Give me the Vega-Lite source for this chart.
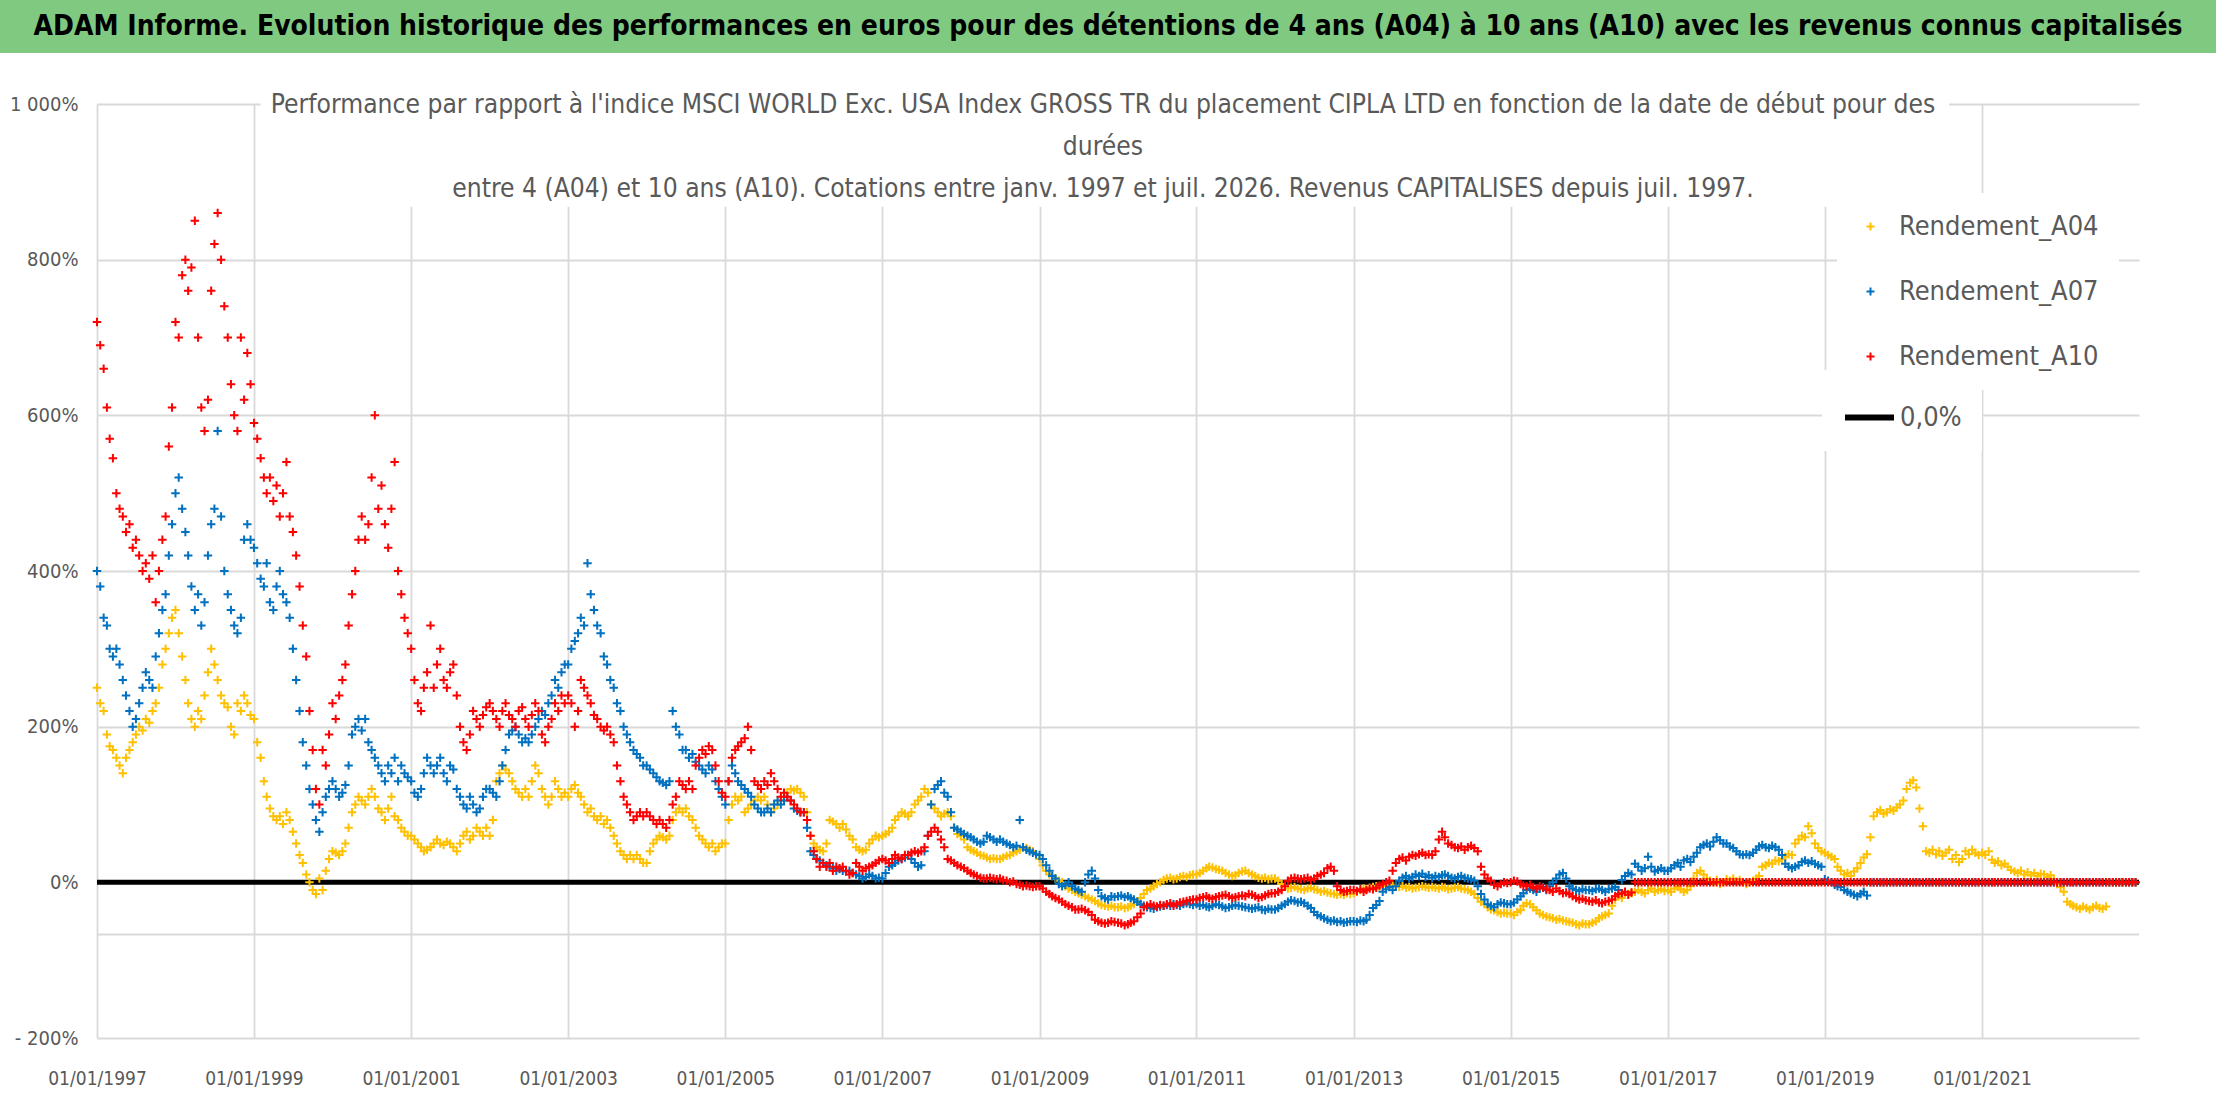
{
  "$schema": "https://vega.github.io/schema/vega-lite/v6.json",
  "padding": 0,
  "spacing": 38,
  "background": "white",
  "config": {
    "view": {"stroke": null},
    "font": "DejaVu Sans Condensed, Liberation Sans, sans-serif",
    "axis": {"labelFont": "DejaVu Sans Condensed, Liberation Sans, sans-serif", "labelColor": "#595959", "labelFontSize": 19, "ticks": false, "domain": false, "gridColor": "#D9D9D9", "gridWidth": 1.8, "title": null},
    "legend": {"labelFont": "DejaVu Sans Condensed, Liberation Sans, sans-serif", "labelFontSize": 27, "labelColor": "#595959", "labelLimit": 400, "fillColor": "white", "padding": 20, "title": null}
  },
  "vconcat": [
    {
      "width": 2216,
      "height": 53,
      "view": {"fill": "#80C980", "stroke": null},
      "data": {"values": [{}]},
      "mark": {"type": "text", "font": "DejaVu Sans Condensed, Liberation Sans, sans-serif", "fontWeight": "bold", "fontSize": 28, "color": "#000000", "align": "center", "baseline": "middle"},
      "encoding": {"text": {"value": "ADAM Informe. Evolution historique des performances en euros pour des détentions de 4 ans (A04) à 10 ans (A10) avec les revenus connus capitalisés"}}
    },
    {
      "width": 2216,
      "height": 934,
      "title": {
        "text": [
          "Performance par rapport à l'indice MSCI WORLD Exc. USA Index GROSS TR  du placement CIPLA LTD en fonction de la date de début pour des",
          "durées",
          "entre 4 (A04) et 10 ans (A10). Cotations entre janv. 1997 et juil. 2026. Revenus CAPITALISES depuis juil. 1997."
        ],
        "anchor": "middle",
        "frame": "group",
        "dx": -5,
        "offset": -108,
        "font": "DejaVu Sans Condensed, Liberation Sans, sans-serif",
        "fontSize": 26.2,
        "fontWeight": "normal",
        "color": "#595959",
        "lineHeight": 42
      },
      "layer": [
        {
          "data": {"values": [{}]},
          "mark": {"type": "rect", "color": "white"},
          "encoding": {
            "x": {"datum": {"year": 1999, "month": 2, "date": 1, "utc": true}, "type": "temporal"},
            "x2": {"datum": {"year": 2020, "month": 8, "date": 1, "utc": true}},
            "y": {"datum": 1003, "type": "quantitative"},
            "y2": {"datum": 868}
          }
        },
        {
          "data": {"values": [{}]},
          "mark": {"type": "rule", "color": "#D9D9D9", "strokeWidth": 1.8},
          "encoding": {
            "x": {"datum": {"year": 1997, "month": 1, "date": 1, "utc": true}, "type": "temporal"},
            "x2": {"datum": {"year": 2023, "month": 1, "date": 1, "utc": true}},
            "y": {"datum": -67, "type": "quantitative"}
          }
        },
        {
          "data": {"values": [{}]},
          "mark": {"type": "rule", "strokeWidth": 5, "color": "#000000"},
          "encoding": {
            "x": {"datum": {"year": 1997, "month": 1, "date": 1, "utc": true}, "type": "temporal"},
            "x2": {"datum": {"year": 2023, "month": 1, "date": 1, "utc": true}},
            "y": {"datum": 0, "type": "quantitative"},
            "strokeDash": {
              "datum": "0,0%",
              "type": "nominal",
              "scale": {"domain": ["0,0%"], "range": [[1, 0]]},
              "legend": {
                "orient": "none",
                "legendX": 1822,
                "legendY": 370,
                "symbolType": "stroke",
                "symbolSize": 2400,
                "symbolStrokeWidth": 6,
                "symbolStrokeColor": "#000000",
                "labelOffset": 3,
                "labelExpr": "datum.label + '\u00a0\u00a0\u00a0\u00a0\u00a0\u00a0\u00a0\u00a0\u00a0\u00a0\u00a0\u00a0\u00a0\u00a0\u00a0\u00a0\u00a0\u00a0\u00a0\u00a0\u00a0\u00a0'"
              }
            }
          }
        },
        {
          "data": {"values": [
{"d":"1997-01-01","a04":250,"a07":400,"a10":720},
{"d":"1997-01-16","a04":230,"a07":380,"a10":690},
{"d":"1997-02-01","a04":220,"a07":340,"a10":660},
{"d":"1997-02-16","a04":190,"a07":330,"a10":610},
{"d":"1997-03-01","a04":175,"a07":300,"a10":570},
{"d":"1997-03-16","a04":170,"a07":290,"a10":545},
{"d":"1997-04-01","a04":160,"a07":300,"a10":500},
{"d":"1997-04-16","a04":150,"a07":280,"a10":480},
{"d":"1997-05-01","a04":140,"a07":260,"a10":470},
{"d":"1997-05-16","a04":160,"a07":240,"a10":450},
{"d":"1997-06-01","a04":170,"a07":220,"a10":460},
{"d":"1997-06-16","a04":180,"a07":200,"a10":430},
{"d":"1997-07-01","a04":190,"a07":210,"a10":440},
{"d":"1997-07-16","a04":200,"a07":230,"a10":420},
{"d":"1997-08-01","a04":195,"a07":250,"a10":400},
{"d":"1997-08-16","a04":210,"a07":270,"a10":410},
{"d":"1997-09-01","a04":205,"a07":260,"a10":390},
{"d":"1997-09-16","a04":220,"a07":250,"a10":420},
{"d":"1997-10-01","a04":230,"a07":290,"a10":360},
{"d":"1997-10-16","a04":250,"a07":320,"a10":400},
{"d":"1997-11-01","a04":280,"a07":350,"a10":440},
{"d":"1997-11-16","a04":300,"a07":370,"a10":470},
{"d":"1997-12-01","a04":320,"a07":420,"a10":560},
{"d":"1997-12-16","a04":340,"a07":460,"a10":610},
{"d":"1998-01-01","a04":350,"a07":500,"a10":720},
{"d":"1998-01-16","a04":320,"a07":520,"a10":700},
{"d":"1998-02-01","a04":290,"a07":480,"a10":780},
{"d":"1998-02-16","a04":260,"a07":450,"a10":800},
{"d":"1998-03-01","a04":230,"a07":420,"a10":760},
{"d":"1998-03-16","a04":210,"a07":380,"a10":790},
{"d":"1998-04-01","a04":200,"a07":350,"a10":850},
{"d":"1998-04-16","a04":220,"a07":370,"a10":700},
{"d":"1998-05-01","a04":210,"a07":330,"a10":610},
{"d":"1998-05-16","a04":240,"a07":360,"a10":580},
{"d":"1998-06-01","a04":270,"a07":420,"a10":620},
{"d":"1998-06-16","a04":300,"a07":460,"a10":760},
{"d":"1998-07-01","a04":280,"a07":480,"a10":820},
{"d":"1998-07-16","a04":260,"a07":580,"a10":860},
{"d":"1998-08-01","a04":240,"a07":470,"a10":800},
{"d":"1998-08-16","a04":230,"a07":400,"a10":740},
{"d":"1998-09-01","a04":225,"a07":370,"a10":700},
{"d":"1998-09-16","a04":200,"a07":350,"a10":640},
{"d":"1998-10-01","a04":190,"a07":330,"a10":600},
{"d":"1998-10-16","a04":230,"a07":320,"a10":580},
{"d":"1998-11-01","a04":220,"a07":340,"a10":700},
{"d":"1998-11-16","a04":240,"a07":440,"a10":620},
{"d":"1998-12-01","a04":230,"a07":460,"a10":680},
{"d":"1998-12-16","a04":215,"a07":440,"a10":640},
{"d":"1999-01-01","a04":210,"a07":430,"a10":590},
{"d":"1999-01-16","a04":180,"a07":410,"a10":570},
{"d":"1999-02-01","a04":160,"a07":390,"a10":545},
{"d":"1999-02-16","a04":130,"a07":380,"a10":520},
{"d":"1999-03-01","a04":110,"a07":410,"a10":500},
{"d":"1999-03-16","a04":95,"a07":360,"a10":520},
{"d":"1999-04-01","a04":85,"a07":350,"a10":490},
{"d":"1999-04-16","a04":80,"a07":380,"a10":510},
{"d":"1999-05-01","a04":85,"a07":400,"a10":470},
{"d":"1999-05-16","a04":75,"a07":370,"a10":500},
{"d":"1999-06-01","a04":90,"a07":360,"a10":540},
{"d":"1999-06-16","a04":80,"a07":340,"a10":470},
{"d":"1999-07-01","a04":65,"a07":300,"a10":450},
{"d":"1999-07-16","a04":50,"a07":260,"a10":420},
{"d":"1999-08-01","a04":35,"a07":220,"a10":380},
{"d":"1999-08-16","a04":25,"a07":180,"a10":330},
{"d":"1999-09-01","a04":10,"a07":150,"a10":290},
{"d":"1999-09-16","a04":0,"a07":120,"a10":220},
{"d":"1999-10-01","a04":-10,"a07":100,"a10":170},
{"d":"1999-10-16","a04":-15,"a07":80,"a10":120},
{"d":"1999-11-01","a04":5,"a07":65,"a10":100},
{"d":"1999-11-16","a04":-10,"a07":90,"a10":170},
{"d":"1999-12-01","a04":15,"a07":110,"a10":150},
{"d":"1999-12-16","a04":30,"a07":120,"a10":190},
{"d":"2000-01-01","a04":40,"a07":130,"a10":230},
{"d":"2000-01-16","a04":38,"a07":120,"a10":210},
{"d":"2000-02-01","a04":35,"a07":110,"a10":240},
{"d":"2000-02-16","a04":40,"a07":115,"a10":260},
{"d":"2000-03-01","a04":50,"a07":125,"a10":280},
{"d":"2000-03-16","a04":70,"a07":150,"a10":330},
{"d":"2000-04-01","a04":90,"a07":190,"a10":370},
{"d":"2000-04-16","a04":100,"a07":200,"a10":400},
{"d":"2000-05-01","a04":110,"a07":210,"a10":440},
{"d":"2000-05-16","a04":105,"a07":195,"a10":470},
{"d":"2000-06-01","a04":100,"a07":210,"a10":440},
{"d":"2000-06-16","a04":110,"a07":180,"a10":460},
{"d":"2000-07-01","a04":120,"a07":170,"a10":520},
{"d":"2000-07-16","a04":110,"a07":160,"a10":600},
{"d":"2000-08-01","a04":95,"a07":150,"a10":480},
{"d":"2000-08-16","a04":90,"a07":140,"a10":510},
{"d":"2000-09-01","a04":80,"a07":130,"a10":460},
{"d":"2000-09-16","a04":95,"a07":150,"a10":430},
{"d":"2000-10-01","a04":110,"a07":140,"a10":480},
{"d":"2000-10-16","a04":85,"a07":160,"a10":540},
{"d":"2000-11-01","a04":80,"a07":130,"a10":400},
{"d":"2000-11-16","a04":70,"a07":150,"a10":370},
{"d":"2000-12-01","a04":65,"a07":140,"a10":340},
{"d":"2000-12-16","a04":60,"a07":135,"a10":320},
{"d":"2001-01-01","a04":60,"a07":130,"a10":300},
{"d":"2001-01-16","a04":55,"a07":115,"a10":260},
{"d":"2001-02-01","a04":50,"a07":110,"a10":230},
{"d":"2001-02-16","a04":45,"a07":120,"a10":220},
{"d":"2001-03-01","a04":40,"a07":140,"a10":250},
{"d":"2001-03-16","a04":42,"a07":160,"a10":270},
{"d":"2001-04-01","a04":45,"a07":150,"a10":330},
{"d":"2001-04-16","a04":50,"a07":140,"a10":250},
{"d":"2001-05-01","a04":55,"a07":150,"a10":280},
{"d":"2001-05-16","a04":50,"a07":160,"a10":300},
{"d":"2001-06-01","a04":48,"a07":140,"a10":260},
{"d":"2001-06-16","a04":52,"a07":130,"a10":250},
{"d":"2001-07-01","a04":50,"a07":150,"a10":270},
{"d":"2001-07-16","a04":45,"a07":145,"a10":280},
{"d":"2001-08-01","a04":40,"a07":120,"a10":240},
{"d":"2001-08-16","a04":50,"a07":110,"a10":200},
{"d":"2001-09-01","a04":60,"a07":100,"a10":180},
{"d":"2001-09-16","a04":65,"a07":95,"a10":170},
{"d":"2001-10-01","a04":55,"a07":110,"a10":190},
{"d":"2001-10-16","a04":60,"a07":100,"a10":220},
{"d":"2001-11-01","a04":70,"a07":90,"a10":210},
{"d":"2001-11-16","a04":65,"a07":95,"a10":200},
{"d":"2001-12-01","a04":60,"a07":110,"a10":215},
{"d":"2001-12-16","a04":70,"a07":120,"a10":225},
{"d":"2002-01-01","a04":60,"a07":120,"a10":230},
{"d":"2002-01-16","a04":80,"a07":115,"a10":220},
{"d":"2002-02-01","a04":130,"a07":110,"a10":210},
{"d":"2002-02-16","a04":140,"a07":130,"a10":200},
{"d":"2002-03-01","a04":150,"a07":150,"a10":220},
{"d":"2002-03-16","a04":145,"a07":170,"a10":230},
{"d":"2002-04-01","a04":140,"a07":190,"a10":215},
{"d":"2002-04-16","a04":130,"a07":195,"a10":210},
{"d":"2002-05-01","a04":120,"a07":200,"a10":200},
{"d":"2002-05-16","a04":115,"a07":190,"a10":220},
{"d":"2002-06-01","a04":110,"a07":180,"a10":225},
{"d":"2002-06-16","a04":120,"a07":185,"a10":210},
{"d":"2002-07-01","a04":110,"a07":180,"a10":200},
{"d":"2002-07-16","a04":130,"a07":190,"a10":215},
{"d":"2002-08-01","a04":150,"a07":200,"a10":230},
{"d":"2002-08-16","a04":140,"a07":210,"a10":220},
{"d":"2002-09-01","a04":120,"a07":220,"a10":190},
{"d":"2002-09-16","a04":110,"a07":215,"a10":180},
{"d":"2002-10-01","a04":100,"a07":230,"a10":200},
{"d":"2002-10-16","a04":110,"a07":240,"a10":210},
{"d":"2002-11-01","a04":130,"a07":260,"a10":230},
{"d":"2002-11-16","a04":120,"a07":250,"a10":220},
{"d":"2002-12-01","a04":110,"a07":270,"a10":240},
{"d":"2002-12-16","a04":115,"a07":280,"a10":230},
{"d":"2003-01-01","a04":110,"a07":280,"a10":240},
{"d":"2003-01-16","a04":120,"a07":300,"a10":230},
{"d":"2003-02-01","a04":125,"a07":310,"a10":200},
{"d":"2003-02-16","a04":115,"a07":320,"a10":220},
{"d":"2003-03-01","a04":110,"a07":340,"a10":260},
{"d":"2003-03-16","a04":100,"a07":330,"a10":250},
{"d":"2003-04-01","a04":90,"a07":410,"a10":240},
{"d":"2003-04-16","a04":95,"a07":370,"a10":230},
{"d":"2003-05-01","a04":85,"a07":350,"a10":215},
{"d":"2003-05-16","a04":80,"a07":330,"a10":210},
{"d":"2003-06-01","a04":85,"a07":320,"a10":200},
{"d":"2003-06-16","a04":75,"a07":290,"a10":195},
{"d":"2003-07-01","a04":80,"a07":280,"a10":200},
{"d":"2003-07-16","a04":70,"a07":260,"a10":190},
{"d":"2003-08-01","a04":60,"a07":250,"a10":180},
{"d":"2003-08-16","a04":50,"a07":230,"a10":150},
{"d":"2003-09-01","a04":40,"a07":220,"a10":130},
{"d":"2003-09-16","a04":35,"a07":200,"a10":110},
{"d":"2003-10-01","a04":30,"a07":190,"a10":100},
{"d":"2003-10-16","a04":35,"a07":180,"a10":90},
{"d":"2003-11-01","a04":30,"a07":170,"a10":80},
{"d":"2003-11-16","a04":35,"a07":165,"a10":85},
{"d":"2003-12-01","a04":30,"a07":160,"a10":90},
{"d":"2003-12-16","a04":25,"a07":150,"a10":85},
{"d":"2004-01-01","a04":25,"a07":150,"a10":90},
{"d":"2004-01-16","a04":40,"a07":145,"a10":85},
{"d":"2004-02-01","a04":50,"a07":140,"a10":80},
{"d":"2004-02-16","a04":55,"a07":135,"a10":75},
{"d":"2004-03-01","a04":60,"a07":130,"a10":80},
{"d":"2004-03-16","a04":58,"a07":128,"a10":75},
{"d":"2004-04-01","a04":55,"a07":125,"a10":70},
{"d":"2004-04-16","a04":60,"a07":130,"a10":80},
{"d":"2004-05-01","a04":80,"a07":220,"a10":100},
{"d":"2004-05-16","a04":90,"a07":200,"a10":110},
{"d":"2004-06-01","a04":95,"a07":190,"a10":130},
{"d":"2004-06-16","a04":90,"a07":170,"a10":125},
{"d":"2004-07-01","a04":95,"a07":170,"a10":120},
{"d":"2004-07-16","a04":85,"a07":160,"a10":130},
{"d":"2004-08-01","a04":80,"a07":165,"a10":120},
{"d":"2004-08-16","a04":70,"a07":155,"a10":150},
{"d":"2004-09-01","a04":60,"a07":150,"a10":160},
{"d":"2004-09-16","a04":55,"a07":145,"a10":170},
{"d":"2004-10-01","a04":50,"a07":140,"a10":165},
{"d":"2004-10-16","a04":45,"a07":150,"a10":175},
{"d":"2004-11-01","a04":50,"a07":145,"a10":170},
{"d":"2004-11-16","a04":40,"a07":130,"a10":150},
{"d":"2004-12-01","a04":45,"a07":120,"a10":130},
{"d":"2004-12-16","a04":50,"a07":110,"a10":115},
{"d":"2005-01-01","a04":50,"a07":100,"a10":110},
{"d":"2005-01-16","a04":80,"a07":130,"a10":130},
{"d":"2005-02-01","a04":100,"a07":150,"a10":160},
{"d":"2005-02-16","a04":110,"a07":140,"a10":170},
{"d":"2005-03-01","a04":105,"a07":130,"a10":175},
{"d":"2005-03-16","a04":110,"a07":125,"a10":180},
{"d":"2005-04-01","a04":90,"a07":120,"a10":185},
{"d":"2005-04-16","a04":95,"a07":115,"a10":200},
{"d":"2005-05-01","a04":100,"a07":110,"a10":170},
{"d":"2005-05-16","a04":105,"a07":100,"a10":130},
{"d":"2005-06-01","a04":110,"a07":95,"a10":125},
{"d":"2005-06-16","a04":105,"a07":90,"a10":120},
{"d":"2005-07-01","a04":110,"a07":90,"a10":130},
{"d":"2005-07-16","a04":100,"a07":95,"a10":125},
{"d":"2005-08-01","a04":90,"a07":90,"a10":140},
{"d":"2005-08-16","a04":95,"a07":100,"a10":130},
{"d":"2005-09-01","a04":100,"a07":105,"a10":120},
{"d":"2005-09-16","a04":105,"a07":100,"a10":110},
{"d":"2005-10-01","a04":110,"a07":105,"a10":115},
{"d":"2005-10-16","a04":115,"a07":110,"a10":110},
{"d":"2005-11-01","a04":120,"a07":105,"a10":105},
{"d":"2005-11-16","a04":118,"a07":95,"a10":100},
{"d":"2005-12-01","a04":120,"a07":92,"a10":95},
{"d":"2005-12-16","a04":115,"a07":90,"a10":90},
{"d":"2006-01-01","a04":110,"a07":90,"a10":90},
{"d":"2006-01-16","a04":90,"a07":70,"a10":80},
{"d":"2006-02-01","a04":60,"a07":40,"a10":60},
{"d":"2006-02-16","a04":50,"a07":35,"a10":40},
{"d":"2006-03-01","a04":45,"a07":30,"a10":30},
{"d":"2006-03-16","a04":42,"a07":28,"a10":20},
{"d":"2006-04-01","a04":40,"a07":25,"a10":25},
{"d":"2006-04-16","a04":50,"a07":22,"a10":20},
{"d":"2006-05-01","a04":80,"a07":20,"a10":25},
{"d":"2006-05-16","a04":78,"a07":18,"a10":15},
{"d":"2006-06-01","a04":75,"a07":15,"a10":20},
{"d":"2006-06-16","a04":70,"a07":17,"a10":18},
{"d":"2006-07-01","a04":75,"a07":15,"a10":20},
{"d":"2006-07-16","a04":68,"a07":14,"a10":15},
{"d":"2006-08-01","a04":60,"a07":15,"a10":10},
{"d":"2006-08-16","a04":55,"a07":12,"a10":12},
{"d":"2006-09-01","a04":45,"a07":10,"a10":25},
{"d":"2006-09-16","a04":42,"a07":8,"a10":20},
{"d":"2006-10-01","a04":40,"a07":5,"a10":15},
{"d":"2006-10-16","a04":42,"a07":7,"a10":18},
{"d":"2006-11-01","a04":50,"a07":10,"a10":20},
{"d":"2006-11-16","a04":55,"a07":8,"a10":22},
{"d":"2006-12-01","a04":60,"a07":5,"a10":25},
{"d":"2006-12-16","a04":58,"a07":6,"a10":28},
{"d":"2007-01-01","a04":60,"a07":5,"a10":30},
{"d":"2007-01-16","a04":62,"a07":12,"a10":28},
{"d":"2007-02-01","a04":65,"a07":20,"a10":25},
{"d":"2007-02-16","a04":70,"a07":22,"a10":30},
{"d":"2007-03-01","a04":80,"a07":25,"a10":35},
{"d":"2007-03-16","a04":85,"a07":28,"a10":32},
{"d":"2007-04-01","a04":90,"a07":30,"a10":30},
{"d":"2007-04-16","a04":88,"a07":32,"a10":35},
{"d":"2007-05-01","a04":85,"a07":35,"a10":35},
{"d":"2007-05-16","a04":90,"a07":30,"a10":38},
{"d":"2007-06-01","a04":100,"a07":25,"a10":40},
{"d":"2007-06-16","a04":105,"a07":20,"a10":38},
{"d":"2007-07-01","a04":110,"a07":22,"a10":40},
{"d":"2007-07-16","a04":120,"a07":40,"a10":45},
{"d":"2007-08-01","a04":115,"a07":60,"a10":60},
{"d":"2007-08-16","a04":100,"a07":100,"a10":65},
{"d":"2007-09-01","a04":95,"a07":120,"a10":70},
{"d":"2007-09-16","a04":90,"a07":125,"a10":65},
{"d":"2007-10-01","a04":85,"a07":130,"a10":55},
{"d":"2007-10-16","a04":88,"a07":115,"a10":45},
{"d":"2007-11-01","a04":90,"a07":110,"a10":30},
{"d":"2007-11-16","a04":85,"a07":90,"a10":28},
{"d":"2007-12-01","a04":70,"a07":70,"a10":25},
{"d":"2007-12-16","a04":62,"a07":68,"a10":22},
{"d":"2008-01-01","a04":60,"a07":65,"a10":20},
{"d":"2008-01-16","a04":55,"a07":62,"a10":18},
{"d":"2008-02-01","a04":45,"a07":60,"a10":15},
{"d":"2008-02-16","a04":42,"a07":58,"a10":12},
{"d":"2008-03-01","a04":40,"a07":55,"a10":10},
{"d":"2008-03-16","a04":38,"a07":52,"a10":8},
{"d":"2008-04-01","a04":35,"a07":50,"a10":6},
{"d":"2008-04-16","a04":34,"a07":52,"a10":5},
{"d":"2008-05-01","a04":32,"a07":60,"a10":5},
{"d":"2008-05-16","a04":30,"a07":58,"a10":6},
{"d":"2008-06-01","a04":31,"a07":55,"a10":5},
{"d":"2008-06-16","a04":30,"a07":52,"a10":4},
{"d":"2008-07-01","a04":30,"a07":55,"a10":5},
{"d":"2008-07-16","a04":32,"a07":52,"a10":3},
{"d":"2008-08-01","a04":34,"a07":50,"a10":2},
{"d":"2008-08-16","a04":35,"a07":48,"a10":0},
{"d":"2008-09-01","a04":38,"a07":45,"a10":1},
{"d":"2008-09-16","a04":40,"a07":47,"a10":-2},
{"d":"2008-10-01","a04":42,"a07":80,"a10":-3},
{"d":"2008-10-16","a04":45,"a07":45,"a10":-5},
{"d":"2008-11-01","a04":44,"a07":42,"a10":-4},
{"d":"2008-11-16","a04":42,"a07":40,"a10":-5},
{"d":"2008-12-01","a04":40,"a07":38,"a10":-6},
{"d":"2008-12-16","a04":36,"a07":36,"a10":-5},
{"d":"2009-01-01","a04":30,"a07":35,"a10":-5},
{"d":"2009-01-16","a04":22,"a07":30,"a10":-8},
{"d":"2009-02-01","a04":15,"a07":22,"a10":-12},
{"d":"2009-02-16","a04":10,"a07":15,"a10":-15},
{"d":"2009-03-01","a04":8,"a07":8,"a10":-18},
{"d":"2009-03-16","a04":5,"a07":5,"a10":-20},
{"d":"2009-04-01","a04":2,"a07":-2,"a10":-22},
{"d":"2009-04-16","a04":0,"a07":-5,"a10":-25},
{"d":"2009-05-01","a04":-5,"a07":-3,"a10":-28},
{"d":"2009-05-16","a04":-8,"a07":0,"a10":-30},
{"d":"2009-06-01","a04":-10,"a07":-5,"a10":-32},
{"d":"2009-06-16","a04":-12,"a07":-8,"a10":-35},
{"d":"2009-07-01","a04":-14,"a07":-10,"a10":-35},
{"d":"2009-07-16","a04":-16,"a07":-12,"a10":-34},
{"d":"2009-08-01","a04":-18,"a07":0,"a10":-36},
{"d":"2009-08-16","a04":-20,"a07":10,"a10":-38},
{"d":"2009-09-01","a04":-22,"a07":15,"a10":-42},
{"d":"2009-09-16","a04":-24,"a07":5,"a10":-48},
{"d":"2009-10-01","a04":-27,"a07":-10,"a10":-50},
{"d":"2009-10-16","a04":-29,"a07":-18,"a10":-52},
{"d":"2009-11-01","a04":-30,"a07":-20,"a10":-53},
{"d":"2009-11-16","a04":-31,"a07":-22,"a10":-52},
{"d":"2009-12-01","a04":-30,"a07":-18,"a10":-50},
{"d":"2009-12-16","a04":-32,"a07":-19,"a10":-51},
{"d":"2010-01-01","a04":-32,"a07":-18,"a10":-52},
{"d":"2010-01-16","a04":-31,"a07":-17,"a10":-53},
{"d":"2010-02-01","a04":-33,"a07":-19,"a10":-55},
{"d":"2010-02-16","a04":-32,"a07":-18,"a10":-54},
{"d":"2010-03-01","a04":-30,"a07":-20,"a10":-52},
{"d":"2010-03-16","a04":-28,"a07":-22,"a10":-50},
{"d":"2010-04-01","a04":-25,"a07":-25,"a10":-45},
{"d":"2010-04-16","a04":-20,"a07":-28,"a10":-40},
{"d":"2010-05-01","a04":-15,"a07":-30,"a10":-32},
{"d":"2010-05-16","a04":-10,"a07":-32,"a10":-30},
{"d":"2010-06-01","a04":-8,"a07":-33,"a10":-28},
{"d":"2010-06-16","a04":-5,"a07":-34,"a10":-30},
{"d":"2010-07-01","a04":-2,"a07":-32,"a10":-31},
{"d":"2010-07-16","a04":0,"a07":-31,"a10":-29},
{"d":"2010-08-01","a04":3,"a07":-30,"a10":-30},
{"d":"2010-08-16","a04":5,"a07":-29,"a10":-28},
{"d":"2010-09-01","a04":6,"a07":-30,"a10":-27},
{"d":"2010-09-16","a04":4,"a07":-28,"a10":-30},
{"d":"2010-10-01","a04":5,"a07":-29,"a10":-28},
{"d":"2010-10-16","a04":7,"a07":-30,"a10":-26},
{"d":"2010-11-01","a04":8,"a07":-28,"a10":-25},
{"d":"2010-11-16","a04":7,"a07":-27,"a10":-24},
{"d":"2010-12-01","a04":9,"a07":-28,"a10":-23},
{"d":"2010-12-16","a04":10,"a07":-29,"a10":-22},
{"d":"2011-01-01","a04":10,"a07":-28,"a10":-22},
{"d":"2011-01-16","a04":12,"a07":-30,"a10":-20},
{"d":"2011-02-01","a04":15,"a07":-29,"a10":-19},
{"d":"2011-02-16","a04":18,"a07":-31,"a10":-18},
{"d":"2011-03-01","a04":20,"a07":-32,"a10":-20},
{"d":"2011-03-16","a04":19,"a07":-30,"a10":-21},
{"d":"2011-04-01","a04":17,"a07":-28,"a10":-19},
{"d":"2011-04-16","a04":16,"a07":-29,"a10":-18},
{"d":"2011-05-01","a04":15,"a07":-31,"a10":-17},
{"d":"2011-05-16","a04":12,"a07":-33,"a10":-16},
{"d":"2011-06-01","a04":10,"a07":-32,"a10":-18},
{"d":"2011-06-16","a04":8,"a07":-30,"a10":-20},
{"d":"2011-07-01","a04":9,"a07":-29,"a10":-19},
{"d":"2011-07-16","a04":12,"a07":-30,"a10":-18},
{"d":"2011-08-01","a04":14,"a07":-31,"a10":-17},
{"d":"2011-08-16","a04":15,"a07":-32,"a10":-18},
{"d":"2011-09-01","a04":12,"a07":-33,"a10":-15},
{"d":"2011-09-16","a04":10,"a07":-34,"a10":-16},
{"d":"2011-10-01","a04":8,"a07":-33,"a10":-18},
{"d":"2011-10-16","a04":6,"a07":-32,"a10":-20},
{"d":"2011-11-01","a04":5,"a07":-35,"a10":-19},
{"d":"2011-11-16","a04":6,"a07":-36,"a10":-17},
{"d":"2011-12-01","a04":4,"a07":-34,"a10":-15},
{"d":"2011-12-16","a04":5,"a07":-35,"a10":-14},
{"d":"2012-01-01","a04":5,"a07":-35,"a10":-14},
{"d":"2012-01-16","a04":2,"a07":-33,"a10":-12},
{"d":"2012-02-01","a04":-2,"a07":-30,"a10":-10},
{"d":"2012-02-16","a04":-5,"a07":-28,"a10":-5},
{"d":"2012-03-01","a04":-8,"a07":-25,"a10":2},
{"d":"2012-03-16","a04":-7,"a07":-23,"a10":5},
{"d":"2012-04-01","a04":-6,"a07":-24,"a10":6},
{"d":"2012-04-16","a04":-8,"a07":-26,"a10":5},
{"d":"2012-05-01","a04":-9,"a07":-25,"a10":4},
{"d":"2012-05-16","a04":-10,"a07":-27,"a10":5},
{"d":"2012-06-01","a04":-8,"a07":-30,"a10":6},
{"d":"2012-06-16","a04":-7,"a07":-33,"a10":3},
{"d":"2012-07-01","a04":-9,"a07":-38,"a10":5},
{"d":"2012-07-16","a04":-10,"a07":-42,"a10":8},
{"d":"2012-08-01","a04":-12,"a07":-44,"a10":10},
{"d":"2012-08-16","a04":-11,"a07":-46,"a10":12},
{"d":"2012-09-01","a04":-13,"a07":-48,"a10":18},
{"d":"2012-09-16","a04":-14,"a07":-50,"a10":20},
{"d":"2012-10-01","a04":-15,"a07":-49,"a10":15},
{"d":"2012-10-16","a04":-16,"a07":-51,"a10":-5},
{"d":"2012-11-01","a04":-15,"a07":-50,"a10":-10},
{"d":"2012-11-16","a04":-16,"a07":-52,"a10":-12},
{"d":"2012-12-01","a04":-14,"a07":-51,"a10":-11},
{"d":"2012-12-16","a04":-15,"a07":-50,"a10":-10},
{"d":"2013-01-01","a04":-14,"a07":-50,"a10":-10},
{"d":"2013-01-16","a04":-12,"a07":-51,"a10":-11},
{"d":"2013-02-01","a04":-10,"a07":-49,"a10":-9},
{"d":"2013-02-16","a04":-8,"a07":-50,"a10":-12},
{"d":"2013-03-01","a04":-9,"a07":-48,"a10":-10},
{"d":"2013-03-16","a04":-7,"a07":-42,"a10":-8},
{"d":"2013-04-01","a04":-6,"a07":-33,"a10":-9},
{"d":"2013-04-16","a04":-5,"a07":-29,"a10":-7},
{"d":"2013-05-01","a04":-6,"a07":-24,"a10":-4},
{"d":"2013-05-16","a04":-5,"a07":-12,"a10":-2},
{"d":"2013-06-01","a04":-4,"a07":-9,"a10":0},
{"d":"2013-06-16","a04":-3,"a07":-6,"a10":2},
{"d":"2013-07-01","a04":-4,"a07":-10,"a10":15},
{"d":"2013-07-16","a04":-5,"a07":-5,"a10":25},
{"d":"2013-08-01","a04":-6,"a07":2,"a10":30},
{"d":"2013-08-16","a04":-5,"a07":6,"a10":32},
{"d":"2013-09-01","a04":-7,"a07":8,"a10":28},
{"d":"2013-09-16","a04":-6,"a07":5,"a10":33},
{"d":"2013-10-01","a04":-8,"a07":7,"a10":35},
{"d":"2013-10-16","a04":-7,"a07":10,"a10":34},
{"d":"2013-11-01","a04":-6,"a07":8,"a10":36},
{"d":"2013-11-16","a04":-5,"a07":11,"a10":38},
{"d":"2013-12-01","a04":-6,"a07":7,"a10":35},
{"d":"2013-12-16","a04":-7,"a07":9,"a10":36},
{"d":"2014-01-01","a04":-6,"a07":6,"a10":35},
{"d":"2014-01-16","a04":-7,"a07":8,"a10":40},
{"d":"2014-02-01","a04":-8,"a07":7,"a10":55},
{"d":"2014-02-16","a04":-6,"a07":9,"a10":65},
{"d":"2014-03-01","a04":-7,"a07":10,"a10":58},
{"d":"2014-03-16","a04":-9,"a07":8,"a10":50},
{"d":"2014-04-01","a04":-8,"a07":6,"a10":48},
{"d":"2014-04-16","a04":-7,"a07":5,"a10":45},
{"d":"2014-05-01","a04":-6,"a07":7,"a10":44},
{"d":"2014-05-16","a04":-8,"a07":8,"a10":46},
{"d":"2014-06-01","a04":-9,"a07":6,"a10":42},
{"d":"2014-06-16","a04":-10,"a07":5,"a10":45},
{"d":"2014-07-01","a04":-12,"a07":4,"a10":47},
{"d":"2014-07-16","a04":-15,"a07":2,"a10":44},
{"d":"2014-08-01","a04":-20,"a07":-5,"a10":40},
{"d":"2014-08-16","a04":-25,"a07":-15,"a10":20},
{"d":"2014-09-01","a04":-28,"a07":-22,"a10":10},
{"d":"2014-09-16","a04":-32,"a07":-28,"a10":5},
{"d":"2014-10-01","a04":-35,"a07":-30,"a10":2},
{"d":"2014-10-16","a04":-36,"a07":-32,"a10":-3},
{"d":"2014-11-01","a04":-38,"a07":-28,"a10":-5},
{"d":"2014-11-16","a04":-40,"a07":-26,"a10":-2},
{"d":"2014-12-01","a04":-39,"a07":-27,"a10":0},
{"d":"2014-12-16","a04":-40,"a07":-28,"a10":-1},
{"d":"2015-01-01","a04":-40,"a07":-28,"a10":0},
{"d":"2015-01-16","a04":-42,"a07":-26,"a10":2},
{"d":"2015-02-01","a04":-38,"a07":-22,"a10":1},
{"d":"2015-02-16","a04":-36,"a07":-18,"a10":-2},
{"d":"2015-03-01","a04":-30,"a07":-14,"a10":-4},
{"d":"2015-03-16","a04":-27,"a07":-10,"a10":-5},
{"d":"2015-04-01","a04":-28,"a07":-8,"a10":-3},
{"d":"2015-04-16","a04":-32,"a07":-10,"a10":-6},
{"d":"2015-05-01","a04":-36,"a07":-12,"a10":-8},
{"d":"2015-05-16","a04":-40,"a07":-8,"a10":-5},
{"d":"2015-06-01","a04":-42,"a07":-6,"a10":-7},
{"d":"2015-06-16","a04":-44,"a07":-10,"a10":-9},
{"d":"2015-07-01","a04":-45,"a07":-5,"a10":-10},
{"d":"2015-07-16","a04":-46,"a07":0,"a10":-12},
{"d":"2015-08-01","a04":-48,"a07":5,"a10":-8},
{"d":"2015-08-16","a04":-47,"a07":10,"a10":-11},
{"d":"2015-09-01","a04":-49,"a07":12,"a10":-14},
{"d":"2015-09-16","a04":-50,"a07":5,"a10":-13},
{"d":"2015-10-01","a04":-51,"a07":-5,"a10":-15},
{"d":"2015-10-16","a04":-52,"a07":-8,"a10":-18},
{"d":"2015-11-01","a04":-54,"a07":-10,"a10":-20},
{"d":"2015-11-16","a04":-55,"a07":-11,"a10":-22},
{"d":"2015-12-01","a04":-53,"a07":-9,"a10":-21},
{"d":"2015-12-16","a04":-54,"a07":-10,"a10":-23},
{"d":"2016-01-01","a04":-54,"a07":-10,"a10":-24},
{"d":"2016-01-16","a04":-52,"a07":-11,"a10":-25},
{"d":"2016-02-01","a04":-50,"a07":-9,"a10":-23},
{"d":"2016-02-16","a04":-46,"a07":-8,"a10":-26},
{"d":"2016-03-01","a04":-44,"a07":-10,"a10":-27},
{"d":"2016-03-16","a04":-42,"a07":-12,"a10":-25},
{"d":"2016-04-01","a04":-40,"a07":-9,"a10":-24},
{"d":"2016-04-16","a04":-30,"a07":-8,"a10":-22},
{"d":"2016-05-01","a04":-22,"a07":-6,"a10":-18},
{"d":"2016-05-16","a04":-18,"a07":-10,"a10":-15},
{"d":"2016-06-01","a04":-20,"a07":3,"a10":-14},
{"d":"2016-06-16","a04":-16,"a07":8,"a10":-12},
{"d":"2016-07-01","a04":-15,"a07":12,"a10":-16},
{"d":"2016-07-16","a04":-14,"a07":10,"a10":-13},
{"d":"2016-08-01","a04":-12,"a07":24,"a10":0},
{"d":"2016-08-16","a04":-10,"a07":20,"a10":0},
{"d":"2016-09-01","a04":-12,"a07":15,"a10":0},
{"d":"2016-09-16","a04":-14,"a07":18,"a10":0},
{"d":"2016-10-01","a04":-10,"a07":33,"a10":0},
{"d":"2016-10-16","a04":-8,"a07":20,"a10":0},
{"d":"2016-11-01","a04":-12,"a07":14,"a10":0},
{"d":"2016-11-16","a04":-10,"a07":16,"a10":0},
{"d":"2016-12-01","a04":-9,"a07":18,"a10":0},
{"d":"2016-12-16","a04":-11,"a07":15,"a10":0},
{"d":"2017-01-01","a04":-10,"a07":15,"a10":0},
{"d":"2017-01-16","a04":-12,"a07":18,"a10":0},
{"d":"2017-02-01","a04":-8,"a07":22,"a10":0},
{"d":"2017-02-16","a04":-6,"a07":25,"a10":0},
{"d":"2017-03-01","a04":-9,"a07":20,"a10":0},
{"d":"2017-03-16","a04":-12,"a07":28,"a10":0},
{"d":"2017-04-01","a04":-10,"a07":30,"a10":0},
{"d":"2017-04-16","a04":-5,"a07":26,"a10":0},
{"d":"2017-05-01","a04":5,"a07":33,"a10":0},
{"d":"2017-05-16","a04":12,"a07":38,"a10":0},
{"d":"2017-06-01","a04":15,"a07":45,"a10":0},
{"d":"2017-06-16","a04":10,"a07":48,"a10":0},
{"d":"2017-07-01","a04":5,"a07":50,"a10":0},
{"d":"2017-07-16","a04":2,"a07":46,"a10":0},
{"d":"2017-08-01","a04":0,"a07":52,"a10":0},
{"d":"2017-08-16","a04":3,"a07":58,"a10":0},
{"d":"2017-09-01","a04":-2,"a07":54,"a10":0},
{"d":"2017-09-16","a04":0,"a07":50,"a10":0},
{"d":"2017-10-01","a04":4,"a07":50,"a10":0},
{"d":"2017-10-16","a04":2,"a07":46,"a10":0},
{"d":"2017-11-01","a04":5,"a07":44,"a10":0},
{"d":"2017-11-16","a04":1,"a07":40,"a10":0},
{"d":"2017-12-01","a04":3,"a07":36,"a10":0},
{"d":"2017-12-16","a04":0,"a07":35,"a10":0},
{"d":"2018-01-01","a04":-2,"a07":36,"a10":0},
{"d":"2018-01-16","a04":0,"a07":35,"a10":0},
{"d":"2018-02-01","a04":2,"a07":38,"a10":0},
{"d":"2018-02-16","a04":5,"a07":42,"a10":0},
{"d":"2018-03-01","a04":8,"a07":46,"a10":0},
{"d":"2018-03-16","a04":20,"a07":48,"a10":0},
{"d":"2018-04-01","a04":22,"a07":45,"a10":0},
{"d":"2018-04-16","a04":25,"a07":44,"a10":0},
{"d":"2018-05-01","a04":24,"a07":47,"a10":0},
{"d":"2018-05-16","a04":28,"a07":45,"a10":0},
{"d":"2018-06-01","a04":27,"a07":42,"a10":0},
{"d":"2018-06-16","a04":30,"a07":35,"a10":0},
{"d":"2018-07-01","a04":33,"a07":24,"a10":0},
{"d":"2018-07-16","a04":36,"a07":20,"a10":0},
{"d":"2018-08-01","a04":35,"a07":18,"a10":0},
{"d":"2018-08-16","a04":50,"a07":20,"a10":0},
{"d":"2018-09-01","a04":55,"a07":22,"a10":0},
{"d":"2018-09-16","a04":60,"a07":26,"a10":0},
{"d":"2018-10-01","a04":58,"a07":28,"a10":0},
{"d":"2018-10-16","a04":72,"a07":25,"a10":0},
{"d":"2018-11-01","a04":63,"a07":27,"a10":0},
{"d":"2018-11-16","a04":50,"a07":24,"a10":0},
{"d":"2018-12-01","a04":44,"a07":22,"a10":0},
{"d":"2018-12-16","a04":40,"a07":20,"a10":0},
{"d":"2019-01-01","a04":38,"a07":4,"a10":0},
{"d":"2019-01-16","a04":35,"a07":2,"a10":0},
{"d":"2019-02-01","a04":33,"a07":0,"a10":0},
{"d":"2019-02-16","a04":30,"a07":-3,"a10":0},
{"d":"2019-03-01","a04":20,"a07":-5,"a10":0},
{"d":"2019-03-16","a04":15,"a07":-6,"a10":0},
{"d":"2019-04-01","a04":10,"a07":-10,"a10":0},
{"d":"2019-04-16","a04":12,"a07":-12,"a10":0},
{"d":"2019-05-01","a04":8,"a07":-14,"a10":0},
{"d":"2019-05-16","a04":14,"a07":-16,"a10":0},
{"d":"2019-06-01","a04":18,"a07":-18,"a10":0},
{"d":"2019-06-16","a04":25,"a07":-15,"a10":0},
{"d":"2019-07-01","a04":32,"a07":-12,"a10":0},
{"d":"2019-07-16","a04":36,"a07":-17,"a10":0},
{"d":"2019-08-01","a04":58,"a07":0,"a10":0},
{"d":"2019-08-16","a04":85,"a07":0,"a10":0},
{"d":"2019-09-01","a04":90,"a07":0,"a10":0},
{"d":"2019-09-16","a04":93,"a07":0,"a10":0},
{"d":"2019-10-01","a04":88,"a07":0,"a10":0},
{"d":"2019-10-16","a04":90,"a07":0,"a10":0},
{"d":"2019-11-01","a04":94,"a07":0,"a10":0},
{"d":"2019-11-16","a04":92,"a07":0,"a10":0},
{"d":"2019-12-01","a04":96,"a07":0,"a10":0},
{"d":"2019-12-16","a04":100,"a07":0,"a10":0},
{"d":"2020-01-01","a04":105,"a07":0,"a10":0},
{"d":"2020-01-16","a04":120,"a07":0,"a10":0},
{"d":"2020-02-01","a04":128,"a07":0,"a10":0},
{"d":"2020-02-16","a04":131,"a07":0,"a10":0},
{"d":"2020-03-01","a04":122,"a07":0,"a10":0},
{"d":"2020-03-16","a04":95,"a07":0,"a10":0},
{"d":"2020-04-01","a04":72,"a07":0,"a10":0},
{"d":"2020-04-16","a04":40,"a07":0,"a10":0},
{"d":"2020-05-01","a04":38,"a07":0,"a10":0},
{"d":"2020-05-16","a04":42,"a07":0,"a10":0},
{"d":"2020-06-01","a04":36,"a07":0,"a10":0},
{"d":"2020-06-16","a04":40,"a07":0,"a10":0},
{"d":"2020-07-01","a04":34,"a07":0,"a10":0},
{"d":"2020-07-16","a04":38,"a07":0,"a10":0},
{"d":"2020-08-01","a04":42,"a07":0,"a10":0},
{"d":"2020-08-16","a04":30,"a07":0,"a10":0},
{"d":"2020-09-01","a04":35,"a07":0,"a10":0},
{"d":"2020-09-16","a04":26,"a07":0,"a10":0},
{"d":"2020-10-01","a04":30,"a07":0,"a10":0},
{"d":"2020-10-16","a04":40,"a07":0,"a10":0},
{"d":"2020-11-01","a04":36,"a07":0,"a10":0},
{"d":"2020-11-16","a04":42,"a07":0,"a10":0},
{"d":"2020-12-01","a04":38,"a07":0,"a10":0},
{"d":"2020-12-16","a04":35,"a07":0,"a10":0},
{"d":"2021-01-01","a04":38,"a07":0,"a10":0},
{"d":"2021-01-16","a04":35,"a07":0,"a10":0},
{"d":"2021-02-01","a04":40,"a07":0,"a10":0},
{"d":"2021-02-16","a04":29,"a07":0,"a10":0},
{"d":"2021-03-01","a04":25,"a07":0,"a10":0},
{"d":"2021-03-16","a04":27,"a07":0,"a10":0},
{"d":"2021-04-01","a04":22,"a07":0,"a10":0},
{"d":"2021-04-16","a04":24,"a07":0,"a10":0},
{"d":"2021-05-01","a04":20,"a07":0,"a10":0},
{"d":"2021-05-16","a04":16,"a07":0,"a10":0},
{"d":"2021-06-01","a04":14,"a07":0,"a10":0},
{"d":"2021-06-16","a04":12,"a07":0,"a10":0},
{"d":"2021-07-01","a04":15,"a07":0,"a10":0},
{"d":"2021-07-16","a04":10,"a07":0,"a10":0},
{"d":"2021-08-01","a04":13,"a07":0,"a10":0},
{"d":"2021-08-16","a04":9,"a07":0,"a10":0},
{"d":"2021-09-01","a04":12,"a07":0,"a10":0},
{"d":"2021-09-16","a04":8,"a07":0,"a10":0},
{"d":"2021-10-01","a04":11,"a07":0,"a10":0},
{"d":"2021-10-16","a04":10,"a07":0,"a10":0},
{"d":"2021-11-01","a04":7,"a07":0,"a10":0},
{"d":"2021-11-16","a04":9,"a07":0,"a10":0},
{"d":"2021-12-01","a04":4,"a07":0,"a10":0},
{"d":"2021-12-16","a04":-2,"a07":0,"a10":0},
{"d":"2022-01-01","a04":-6,"a07":0,"a10":0},
{"d":"2022-01-16","a04":-12,"a07":0,"a10":0},
{"d":"2022-02-01","a04":-25,"a07":0,"a10":0},
{"d":"2022-02-16","a04":-28,"a07":0,"a10":0},
{"d":"2022-03-01","a04":-30,"a07":0,"a10":0},
{"d":"2022-03-16","a04":-32,"a07":0,"a10":0},
{"d":"2022-04-01","a04":-34,"a07":0,"a10":0},
{"d":"2022-04-16","a04":-31,"a07":0,"a10":0},
{"d":"2022-05-01","a04":-33,"a07":0,"a10":0},
{"d":"2022-05-16","a04":-35,"a07":0,"a10":0},
{"d":"2022-06-01","a04":-32,"a07":0,"a10":0},
{"d":"2022-06-16","a04":-30,"a07":0,"a10":0},
{"d":"2022-07-01","a04":-33,"a07":0,"a10":0},
{"d":"2022-07-16","a04":-34,"a07":0,"a10":0},
{"d":"2022-08-01","a04":-31,"a07":0,"a10":0},
{"d":"2022-08-16","a04":0,"a07":0,"a10":0},
{"d":"2022-09-01","a04":0,"a07":0,"a10":0},
{"d":"2022-09-16","a04":0,"a07":0,"a10":0},
{"d":"2022-10-01","a04":0,"a07":0,"a10":0},
{"d":"2022-10-16","a04":0,"a07":0,"a10":0},
{"d":"2022-11-01","a04":0,"a07":0,"a10":0},
{"d":"2022-11-16","a04":0,"a07":0,"a10":0},
{"d":"2022-12-01","a04":0,"a07":0,"a10":0},
{"d":"2022-12-16","a04":0,"a07":0,"a10":0}
          ]},
          "transform": [
            {"fold": ["a04", "a07", "a10"], "as": ["serie", "v"]}
          ],
          "mark": {"type": "point", "filled": false, "size": 72, "strokeWidth": 2, "opacity": 1},
          "encoding": {
            "x": {
              "field": "d",
              "type": "temporal",
              "scale": {"type": "utc", "range": [97, 2139], "domain": [{"year": 1997, "month": 1, "date": 1, "utc": true}, {"year": 2023, "month": 1, "date": 1, "utc": true}]},
              "axis": {
                "title": null,
                "grid": true,
                "format": "%d/%m/%Y",
                "labelPadding": 31,
                "labelFlush": false,
                "values": [
                  {"year": 1997, "month": 1, "date": 1, "utc": true},
                  {"year": 1999, "month": 1, "date": 1, "utc": true},
                  {"year": 2001, "month": 1, "date": 1, "utc": true},
                  {"year": 2003, "month": 1, "date": 1, "utc": true},
                  {"year": 2005, "month": 1, "date": 1, "utc": true},
                  {"year": 2007, "month": 1, "date": 1, "utc": true},
                  {"year": 2009, "month": 1, "date": 1, "utc": true},
                  {"year": 2011, "month": 1, "date": 1, "utc": true},
                  {"year": 2013, "month": 1, "date": 1, "utc": true},
                  {"year": 2015, "month": 1, "date": 1, "utc": true},
                  {"year": 2017, "month": 1, "date": 1, "utc": true},
                  {"year": 2019, "month": 1, "date": 1, "utc": true},
                  {"year": 2021, "month": 1, "date": 1, "utc": true}
                ]
              }
            },
            "y": {
              "field": "v",
              "type": "quantitative",
              "scale": {"domain": [-200, 1000], "nice": false, "zero": false},
              "axis": {
                "title": null,
                "grid": true,
                "offset": -97,
                "values": [-200, 0, 200, 400, 600, 800, 1000],
                "labelPadding": 19,
                "labelFontSize": 20,
                "labelExpr": "datum.value >= 1000 ? '1 000%' : (datum.value < 0 ? '- ' + (-datum.value) + '%' : datum.value + '%')"
              }
            },
            "color": {
              "field": "serie",
              "type": "nominal",
              "scale": {"domain": ["a04", "a07", "a10"], "range": ["#FFC000", "#0070C0", "#FF0000"]},
              "legend": {
                "orient": "none",
                "legendX": 1837,
                "legendY": 193,
                "symbolSize": 64,
                "symbolStrokeWidth": 2,
                "labelOffset": 15,
                "rowPadding": 37,
                "labelExpr": "datum.label == 'a04' ? 'Rendement_A04' : datum.label == 'a07' ? 'Rendement_A07' : 'Rendement_A10'"
              }
            },
            "shape": {
              "field": "serie",
              "type": "nominal",
              "scale": {"domain": ["a04", "a07", "a10"], "range": ["M-1,0L1,0M0,-1L0,1", "M-1,0L1,0M0,-1L0,1", "M-1,0L1,0M0,-1L0,1"]},
              "legend": {
                "orient": "none",
                "legendX": 1837,
                "legendY": 193,
                "symbolSize": 64,
                "symbolStrokeWidth": 2,
                "labelOffset": 15,
                "rowPadding": 37,
                "labelExpr": "datum.label == 'a04' ? 'Rendement_A04' : datum.label == 'a07' ? 'Rendement_A07' : 'Rendement_A10'"
              }
            },
            "order": {"field": "serie", "sort": "ascending"}
          }
        }
      ]
    }
  ]
}
